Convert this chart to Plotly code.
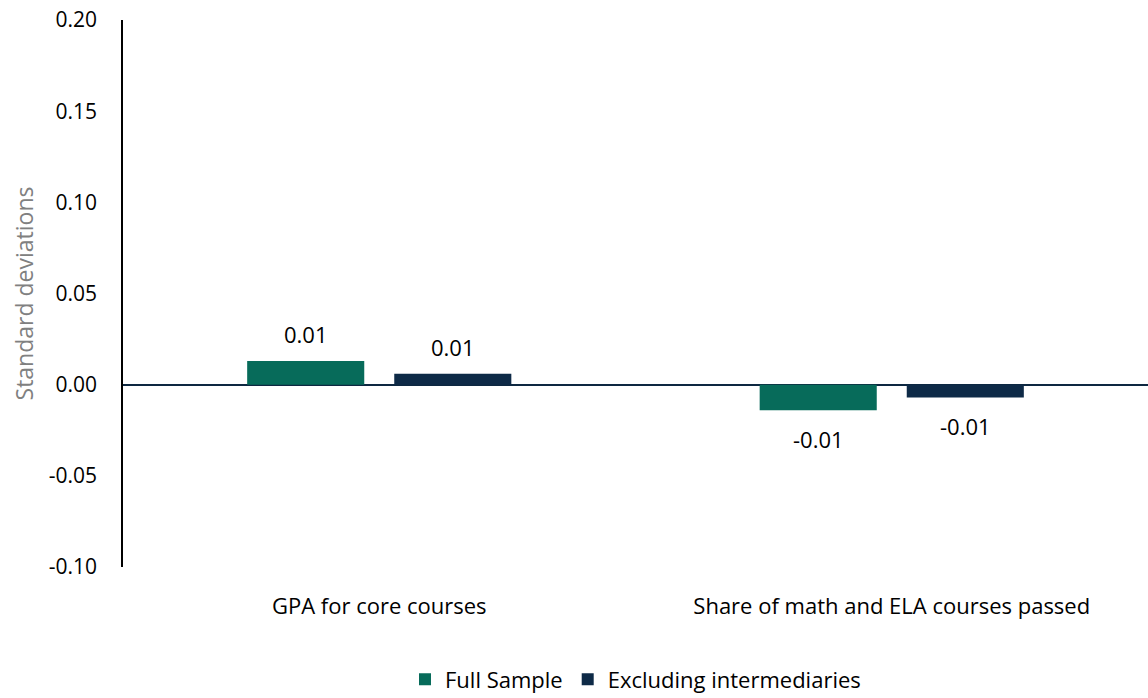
import plotly.graph_objects as go

categories = ["GPA for core courses", "Share of math and ELA courses passed"]
full_sample = [0.013, -0.014]
excluding_intermediaries = [0.006, -0.007]
series_names = ["Full Sample", "Excluding intermediaries"]
series_colors = ["#076b5a", "#0e2a47"]
y_ticks = [-0.10, -0.05, 0.0, 0.05, 0.10, 0.15, 0.20]

FONT = "Open Sans, Segoe UI, sans-serif"

fig = go.Figure()
for name, vals, col in zip(series_names, [full_sample, excluding_intermediaries], series_colors):
    fig.add_trace(go.Bar(
        x=categories, y=vals, name=name, marker_color=col, marker_line_width=0,
    ))

# data labels
slot_px = 147
for i, vals in enumerate([full_sample, excluding_intermediaries]):
    xs = (-0.5 + i) * slot_px
    for c, v in zip(categories, vals):
        fig.add_annotation(
            x=c, y=v, text=f"{v:.2f}", showarrow=False,
            xshift=xs, yanchor="bottom" if v >= 0 else "top",
            yshift=10 if v >= 0 else -12,
            font=dict(family=FONT, size=22, color="#000000"),
        )

fig.update_layout(
    width=1148, height=698,
    margin=dict(l=123, r=0, t=20, b=131, autoexpand=False),
    paper_bgcolor="white", plot_bgcolor="white",
    barmode="group", bargap=0.426, bargroupgap=0.204,
    font=dict(family=FONT, size=22, color="#000000"),
    legend=dict(orientation="h", x=0.5, xanchor="center", y=-0.167, yanchor="top",
                font=dict(family=FONT, size=22, color="#000000"),
                itemwidth=30, traceorder="normal"),
    showlegend=True,
)
fig.update_yaxes(
    range=[-0.10, 0.20], tickvals=y_ticks,
    ticktext=[f"{t:.2f}" for t in y_ticks],
    showgrid=False, zeroline=True, zerolinecolor="#0e2841", zerolinewidth=1.5,
    showline=True, linecolor="#000000", linewidth=1.5,
    ticks="", ticklabelstandoff=20,
    title=dict(text="Standard deviations", font=dict(family=FONT, size=23, color="#808080"), standoff=9),
    tickfont=dict(family=FONT, size=21, color="#000000"),
)
fig.update_xaxes(
    showgrid=False, showline=False, ticks="", ticklabelstandoff=24,
    tickfont=dict(family=FONT, size=22, color="#000000"),
)

fig.write_html("out.html")
